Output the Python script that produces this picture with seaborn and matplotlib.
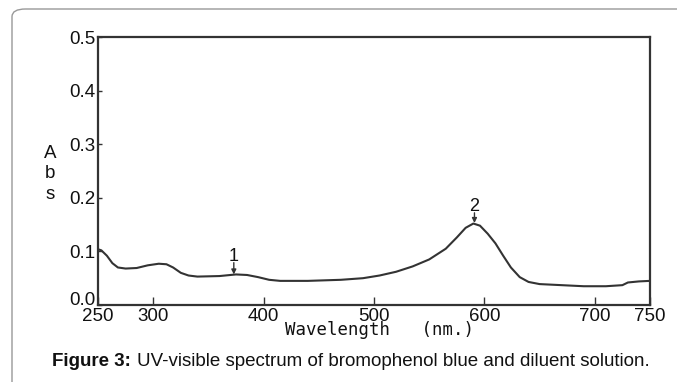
import matplotlib
matplotlib.use("Agg")
import matplotlib.pyplot as plt
import matplotlib.transforms as mtransforms
from matplotlib.patches import FancyBboxPatch
import seaborn as sns
import pandas as pd

wavelength = [250, 253, 258, 263, 268, 275, 285, 295, 305, 312, 318, 325, 332, 340,
              360, 375, 385, 395, 405, 415, 440, 470, 490, 505, 520, 535, 550, 565,
              575, 583, 590, 596, 603, 610, 617, 624, 632, 640, 650, 670, 690, 710,
              725, 730, 740, 750]
absorbance = [0.104, 0.102, 0.092, 0.078, 0.070, 0.068, 0.069, 0.074, 0.077, 0.076,
              0.070, 0.060, 0.055, 0.053, 0.054, 0.057, 0.056, 0.052, 0.047, 0.045,
              0.045, 0.047, 0.050, 0.055, 0.062, 0.072, 0.085, 0.105, 0.126, 0.144,
              0.152, 0.148, 0.133, 0.115, 0.092, 0.070, 0.052, 0.043, 0.039, 0.037,
              0.035, 0.035, 0.037, 0.042, 0.044, 0.045]
x_ticks = [250, 300, 400, 500, 600, 700, 750]
y_ticks = [0.0, 0.1, 0.2, 0.3, 0.4, 0.5]
peak_labels = ["1", "2"]
peak_x = [373, 591]
peak_y = [0.057, 0.153]
label_y = [0.081, 0.174]

df = pd.DataFrame({"wavelength": wavelength, "absorbance": absorbance})

sns.set_style("ticks")
plt.rcParams["font.family"] = ["Liberation Sans", "DejaVu Sans"]

fig = plt.figure(figsize=(6.77, 3.82), dpi=100)
ax = fig.add_axes([0.1448, 0.2016, 0.9601 - 0.1448, 0.903 - 0.2016])

sns.lineplot(data=df, x="wavelength", y="absorbance", ax=ax, color="#333333",
             linewidth=1.5)

ax.set_xlim(250, 750)
ax.set_ylim(0, 0.5)
ax.set_xticks(x_ticks)
ax.set_xticklabels([str(t) for t in x_ticks])
ax.set_yticks(y_ticks)
ax.set_yticklabels([f"{t:.1f}" for t in y_ticks])
ax.tick_params(axis="x", direction="in", length=6, width=1, pad=2,
               labelsize=13.5, colors="#333333", labelcolor="#111111")
ax.tick_params(axis="y", direction="in", length=3, width=1, pad=2,
               labelsize=13.5, colors="#333333", labelcolor="#111111")
for s in ax.spines.values():
    s.set_visible(True)
    s.set_color("#333333")
    s.set_linewidth(1.6)
ax.set_xlabel("")
ax.set_ylabel("")

# lift the "0.0" label slightly as in the reference
ylabs = ax.get_yticklabels()
ylabs[0].set_transform(ylabs[0].get_transform() +
                       mtransforms.ScaledTranslation(0, 6 / 100, fig.dpi_scale_trans))

for lab, px, py, ly in zip(peak_labels, peak_x, peak_y, label_y):
    ax.text(px, ly + 0.002, lab, ha="center", va="baseline", fontsize=13,
            color="#111111")
    ax.annotate("", xy=(px, py), xytext=(px, ly - 0.002),
                arrowprops=dict(arrowstyle="-|>", color="#333333", lw=1,
                                mutation_scale=7, shrinkA=0, shrinkB=0))

fig.text(50 / 677, 1 - 174 / 382, "A\nb\ns", ha="center", va="center",
         fontsize=13.5, linespacing=1.25, color="#111111")
fig.text(380 / 677, 1 - 330 / 382, "Wavelength   (nm.)", ha="center", va="center",
         fontsize=12.5, family="DejaVu Sans Mono", color="#111111")

fig.text(52 / 677, 1 - 361 / 382, "Figure 3:", ha="left", va="center",
         fontsize=13.5, fontweight="bold", color="#111111")
fig.text(137 / 677, 1 - 361 / 382,
         "UV-visible spectrum of bromophenol blue and diluent solution.",
         ha="left", va="center", fontsize=13.5, color="#111111")

box = FancyBboxPatch((12 / 677, -0.2), 1.2, 0.2 + 1 - 9 / 382,
                     boxstyle="round,pad=0,rounding_size=0.02",
                     transform=fig.transFigure, fill=False,
                     edgecolor="#999999", linewidth=1.0, clip_on=False)
fig.patches.append(box)

fig.savefig("out.png", dpi=100)
